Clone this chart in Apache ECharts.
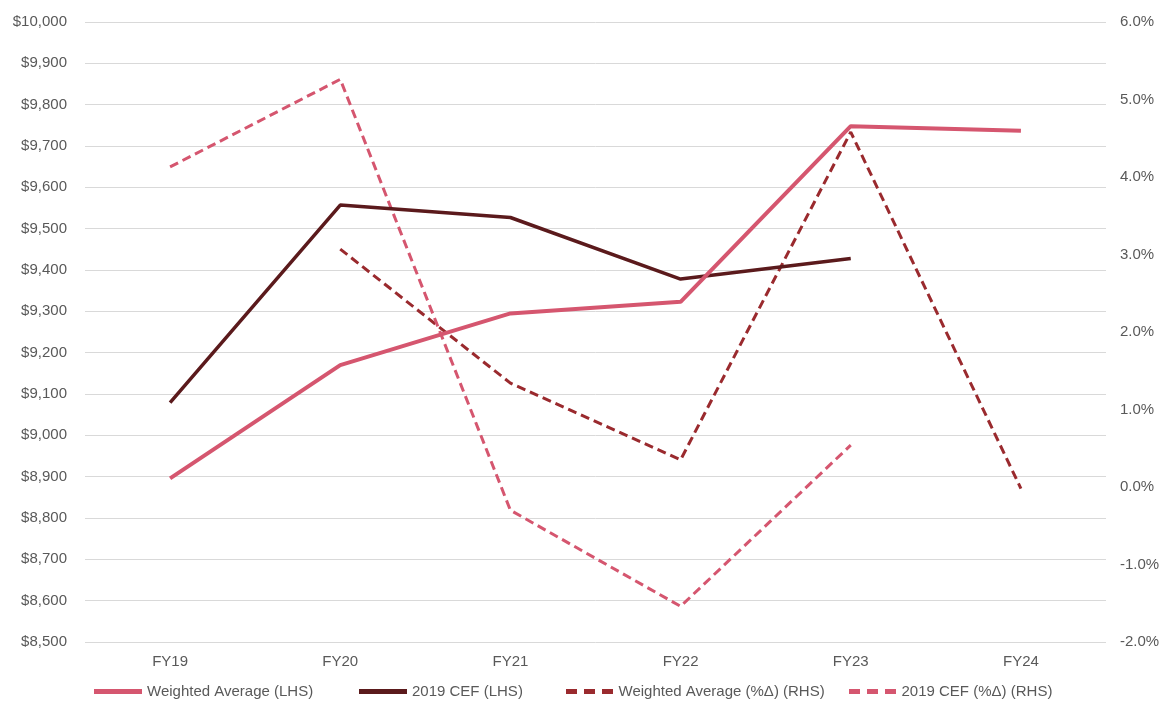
<!DOCTYPE html>
<html>
<head>
<meta charset="utf-8">
<style>
  html, body { margin: 0; padding: 0; background: #fff; }
  #chart { width: 1169px; height: 703px; }
</style>
<script src="https://cdn.jsdelivr.net/npm/echarts@6/dist/echarts.min.js"></script>
</head>
<body>
<div id="chart"></div>
<script>
// Fiscal years on the category axis
const categories = ['FY19', 'FY20', 'FY21', 'FY22', 'FY23', 'FY24'];

// Dollar levels (left axis)
const weightedAvg = [8896, 9170, 9295, 9323, 9748, 9737];
const cef2019 = [9079, 9557, 9527, 9378, 9428, null];

// Year-on-year change, % (right axis)
const weightedAvgPct = [null, 3.07, 1.34, 0.35, 4.58, -0.02];
const cef2019Pct = [4.13, 5.26, -0.30, -1.54, 0.54, null];

const seriesNames = [
  'Weighted Average (LHS)',
  '2019 CEF (LHS)',
  'Weighted Average (%\u0394) (RHS)',
  '2019 CEF (%\u0394) (RHS)'
];

const PINK = '#D5566F';
const MAROON = '#5B1A1C';
const DARKRED = '#9A2A2E';
const TEXT = '#595959';
const FONT = 'Liberation Sans, Arial, sans-serif';

// Legend glyphs: a solid bar and a three-dash bar
const SOLID_ICON = 'path://M0,0h48v5h-48z';
const DASH_ICON = 'path://M0,0h11v5h-11zM18,0h11v5h-11zM36,0h11v5h-11z';

const chart = echarts.init(document.getElementById('chart'), null, { renderer: 'canvas' });

// One legend per entry so each item sits at its own x position
function legendAt(name, left, icon, color) {
  return {
    show: true,
    orient: 'horizontal',
    data: [{ name: name, icon: icon, itemStyle: { color: color } }],
    left: left,
    top: 684,
    padding: 0,
    itemWidth: 48,
    itemHeight: 5,
    itemGap: 4,
    textStyle: { color: TEXT, fontSize: 15, fontFamily: FONT },
    selectedMode: false
  };
}

chart.setOption({
  animation: false,
  backgroundColor: '#fff',
  textStyle: { fontFamily: FONT },
  grid: { left: 85, right: 63, top: 22, bottom: 61, containLabel: false },
  legend: [
    legendAt(seriesNames[0], 94, SOLID_ICON, PINK),
    legendAt(seriesNames[1], 359, SOLID_ICON, MAROON),
    legendAt(seriesNames[2], 566, DASH_ICON, DARKRED),
    legendAt(seriesNames[3], 849, DASH_ICON, PINK)
  ],
  xAxis: {
    type: 'category',
    data: categories,
    boundaryGap: true,
    axisLine: { show: false },
    axisTick: { show: false },
    axisLabel: { color: TEXT, fontSize: 15, margin: 12, fontFamily: FONT }
  },
  yAxis: [
    {
      type: 'value',
      min: 8500,
      max: 10000,
      interval: 100,
      axisLine: { show: false },
      axisTick: { show: false },
      splitLine: { lineStyle: { color: '#D9D9D9', width: 1 } },
      axisLabel: {
        color: TEXT, fontSize: 15, margin: 18, fontFamily: FONT,
        formatter: v => '$' + v.toLocaleString('en-US')
      }
    },
    {
      type: 'value',
      min: -2,
      max: 6,
      interval: 1,
      position: 'right',
      axisLine: { show: false },
      axisTick: { show: false },
      splitLine: { show: false },
      axisLabel: {
        color: TEXT, fontSize: 15, margin: 14, fontFamily: FONT,
        formatter: v => v.toFixed(1) + '%'
      }
    }
  ],
  series: [
    {
      name: seriesNames[0],
      type: 'line',
      yAxisIndex: 0,
      data: weightedAvg,
      symbol: 'none',
      z: 4,
      lineStyle: { color: PINK, width: 4 },
      itemStyle: { color: PINK }
    },
    {
      name: seriesNames[1],
      type: 'line',
      yAxisIndex: 0,
      data: cef2019,
      symbol: 'none',
      z: 3,
      lineStyle: { color: MAROON, width: 3.5 },
      itemStyle: { color: MAROON }
    },
    {
      name: seriesNames[2],
      type: 'line',
      yAxisIndex: 1,
      data: weightedAvgPct,
      symbol: 'none',
      z: 2,
      lineStyle: { color: DARKRED, width: 3, type: [9, 5] },
      itemStyle: { color: DARKRED }
    },
    {
      name: seriesNames[3],
      type: 'line',
      yAxisIndex: 1,
      data: cef2019Pct,
      symbol: 'none',
      z: 2,
      lineStyle: { color: PINK, width: 3, type: [9, 5] },
      itemStyle: { color: PINK }
    }
  ]
});
</script>
</body>
</html>
